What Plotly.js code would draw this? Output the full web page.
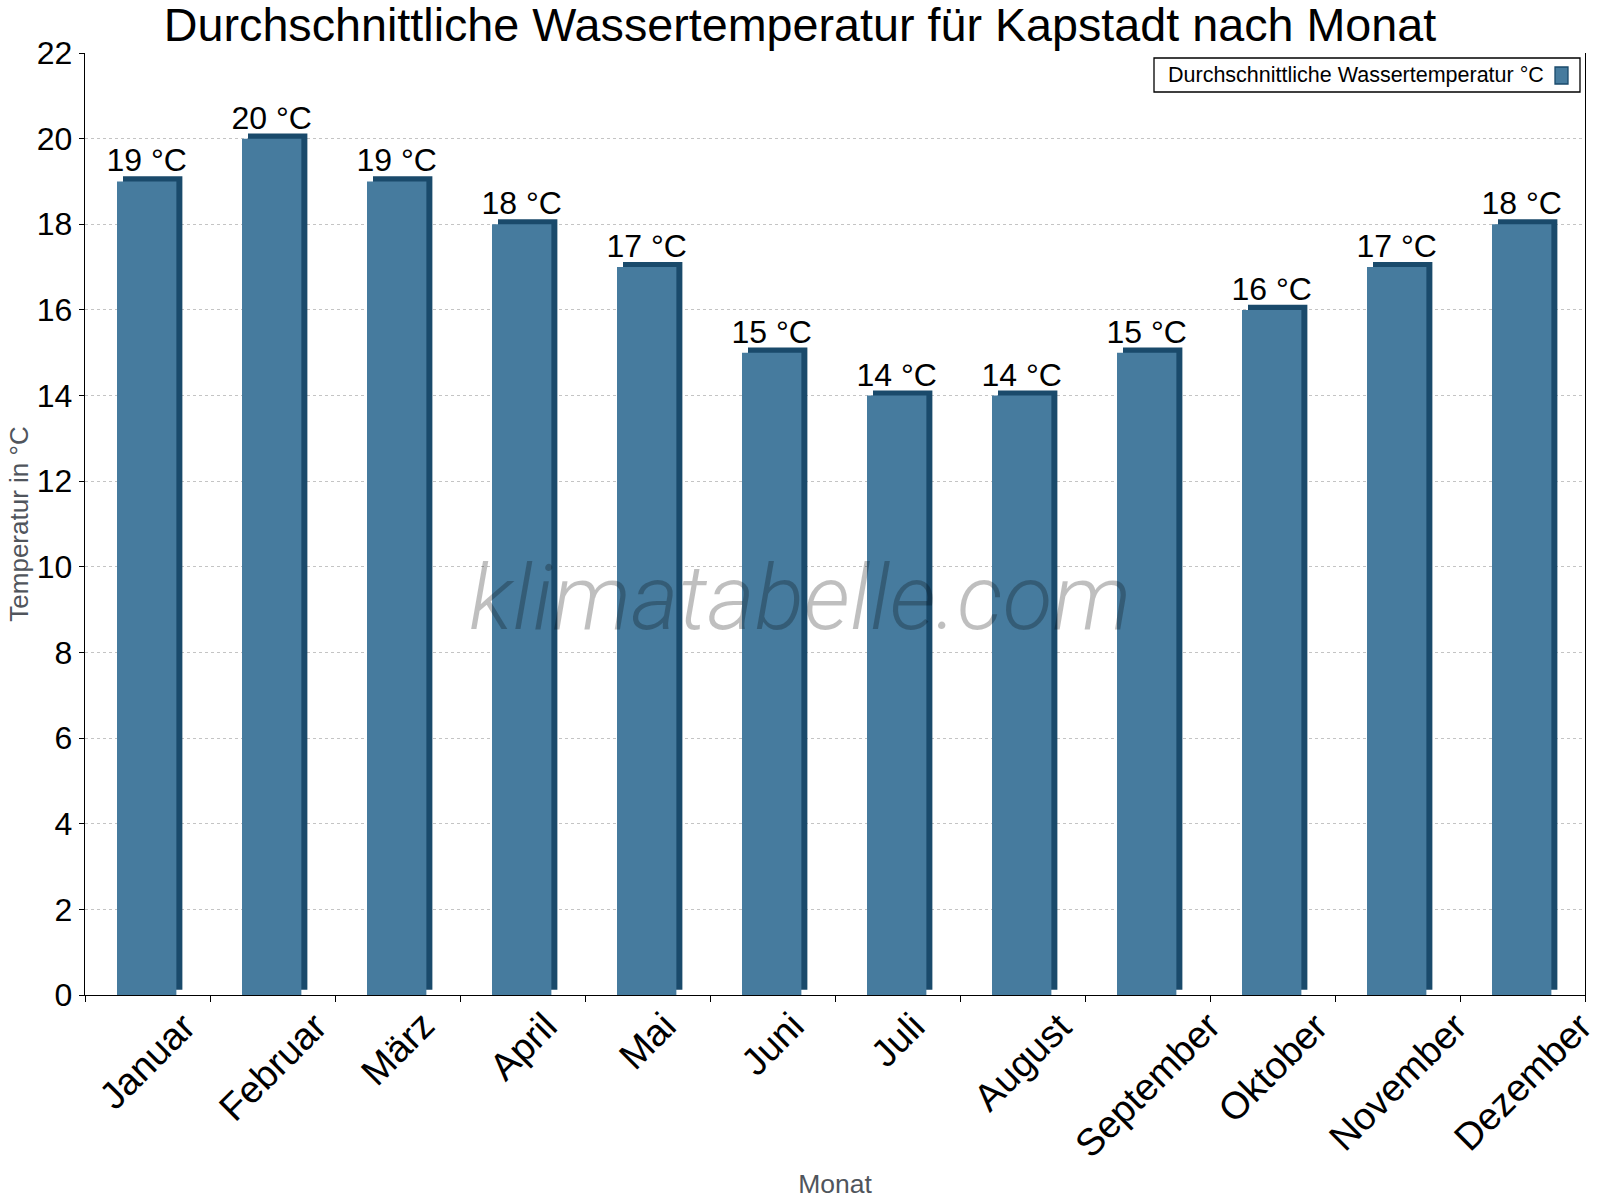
<!DOCTYPE html>
<html>
<head>
<meta charset="utf-8">
<script src="https://cdn.plot.ly/plotly-3.0.1.min.js"></script>
<style>
  html, body { margin: 0; padding: 0; background: #fff; }
  #chart { width: 1600px; height: 1200px; }
</style>
</head>
<body>
<div id="chart"></div>
<script>
var months = ['Januar', 'Februar', 'März', 'April', 'Mai', 'Juni', 'Juli',
  'August', 'September', 'Oktober', 'November', 'Dezember'];
var waterTemp = [19, 20, 19, 18, 17, 15, 14, 14, 15, 16, 17, 18];
var seriesName = 'Durchschnittliche Wassertemperatur °C';
var yTicks = [0, 2, 4, 6, 8, 10, 12, 14, 16, 18, 20, 22];

var frontColor = '#467b9e';
var sideColor = '#1a4a6b';

// plot area in pixels, used for the paper-based legend box
var plotL = 85, plotR = 1585, plotT = 53, plotB = 995;
function px(x) { return (x - plotL) / (plotR - plotL); }
function py(y) { return (plotB - y) / (plotB - plotT); }

// dark block behind, shifted right/up a little -> fake 3d side + top
var sideTrace = {
  x: months,
  y: waterTemp,
  base: 0.12,
  type: 'bar',
  width: 0.475,
  offset: -0.196,
  marker: { color: sideColor, line: { width: 0 } },
  hoverinfo: 'skip',
  showlegend: false
};

var frontTrace = {
  x: months,
  y: waterTemp,
  type: 'bar',
  name: seriesName,
  width: 0.475,
  offset: -0.244,
  marker: { color: frontColor, line: { width: 0 } },
  text: waterTemp.map(function (v) { return v + ' °C'; }),
  textposition: 'outside',
  constraintext: 'none',
  textfont: { family: 'Liberation Sans, Arial, sans-serif', size: 32, color: '#000' },
  cliponaxis: false,
  hoverinfo: 'x+y',
  showlegend: false
};

// month labels: rotated around their centre, hanging under each category
var monthLabels = months.map(function (m) {
  return {
    text: m,
    xref: 'x', yref: 'paper',
    x: m, y: py(1002),
    xanchor: 'center', yanchor: 'top',
    textangle: -45,
    showarrow: false,
    font: { size: 38, color: '#000' }
  };
});

var layout = {
  width: 1600,
  height: 1200,
  paper_bgcolor: '#fff',
  plot_bgcolor: '#fff',
  barmode: 'overlay',
  margin: { l: plotL, r: 1600 - plotR, t: plotT, b: 1200 - plotB },
  font: { family: 'Liberation Sans, Arial, sans-serif', color: '#000' },
  title: {
    text: 'Durchschnittliche Wassertemperatur für Kapstadt nach Monat',
    font: { size: 46.7, color: '#000' },
    xref: 'container', x: 0.5, xanchor: 'center',
    yref: 'container', y: 1 - 25 / 1200, yanchor: 'middle'
  },
  xaxis: {
    type: 'category',
    categoryarray: months,
    range: [-0.5, months.length - 0.5],
    tickson: 'boundaries',
    ticks: 'outside',
    ticklen: 6,
    tickcolor: '#000',
    showline: true,
    linecolor: '#000',
    linewidth: 1.3,
    showgrid: false,
    showticklabels: false,
    automargin: false,
    title: { text: 'Monat', font: { size: 26.5, color: '#50555c' }, standoff: 179 }
  },
  yaxis: {
    range: [0, 22],
    tickvals: yTicks,
    ticks: 'outside',
    ticklen: 5,
    tickcolor: '#000',
    showline: true,
    mirror: true,
    linecolor: '#000',
    linewidth: 1.3,
    showgrid: true,
    gridcolor: '#c4c4c4',
    griddash: 'dot',
    gridwidth: 1,
    zeroline: false,
    tickfont: { size: 32 },
    automargin: false,
    title: { text: 'Temperatur in °C', font: { size: 26, color: '#50555c' }, standoff: 0 }
  },
  shapes: [
    {
      type: 'rect', xref: 'paper', yref: 'paper', layer: 'above',
      x0: px(1154), x1: px(1580), y0: py(92), y1: py(58),
      fillcolor: '#fff', line: { color: '#000', width: 1.3 }
    },
    {
      type: 'rect', xref: 'paper', yref: 'paper', layer: 'above',
      x0: px(1555), x1: px(1568), y0: py(84), y1: py(67),
      fillcolor: frontColor, line: { color: sideColor, width: 1.3 }
    }
  ],
  annotations: [
    {
      text: seriesName,
      xref: 'paper', yref: 'paper',
      x: px(1166), y: py(75), xanchor: 'left', yanchor: 'middle',
      showarrow: false,
      font: { size: 21.5, color: '#000' }
    },
    {
      text: 'klimatabelle.com',
      xref: 'paper', yref: 'paper',
      x: px(800), y: py(597), xanchor: 'center', yanchor: 'middle',
      showarrow: false,
      font: { family: 'Roboto', size: 91.5, weight: 300, style: 'italic', color: 'rgba(0,0,0,0.25)' }
    }
  ].concat(monthLabels)
};

Plotly.newPlot('chart', [sideTrace, frontTrace], layout, { displayModeBar: false, staticPlot: true });
</script>
</body>
</html>
